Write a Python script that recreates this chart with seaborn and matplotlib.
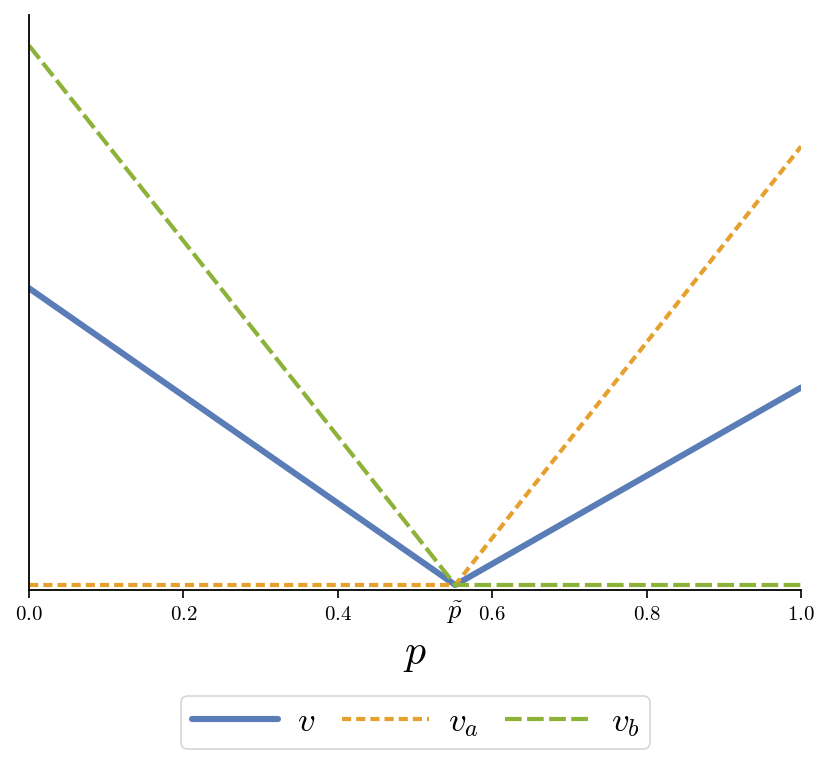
# ==== IMPORT LIBRARIES ====
import matplotlib
matplotlib.use("Agg")
import matplotlib.pyplot as plt
import seaborn as sns

# ==== DATA ====
p = [0.0, 0.552, 1.0]
v = [0.55, 0.0, 0.366]
v_a = [0.0, 0.0, 0.813]
v_b = [1.0, 0.0, 0.0]

p_tilde = 0.552
xticks = [0.0, 0.2, 0.4, 0.6, 0.8, 1.0]
xtick_labels = ["$0.0$", "$0.2$", "$0.4$", "$0.6$", "$0.8$", "$1.0$"]

# ==== STYLE ====
sns.set_style("ticks")
plt.rcParams["mathtext.fontset"] = "cm"
plt.rcParams["font.family"] = ["serif"]
plt.rcParams["font.serif"] = ["cmr10", "DejaVu Serif"]
plt.rcParams["text.color"] = "black"
plt.rcParams["xtick.color"] = "black"
plt.rcParams["axes.labelcolor"] = "black"

# ==== PLOT ====
fig = plt.figure(figsize=(8.31, 7.67), dpi=100)
ax = fig.add_axes([0.035, 0.231, 0.929, 0.749])

sns.lineplot(x=p, y=v, ax=ax, color="#5A7DB7", lw=4.4, label="$v$")
sns.lineplot(x=p, y=v_a, ax=ax, color="#E6A02E", lw=3, linestyle=(0, (2.2, 1.2)), label="$v_a$")
sns.lineplot(x=p, y=v_b, ax=ax, color="#8CB23A", lw=3, linestyle=(0, (4, 1.3)), label="$v_b$")

ax.set_xlim(0, 1)
ax.set_ylim(-0.009, 1.056)
ax.set_xticks(xticks, xtick_labels, fontsize=15)
ax.set_xticks([p_tilde], [r"$\tilde{p}$"], minor=True, fontsize=19)
ax.tick_params(axis="x", which="major", length=6, width=1.2, color="black", pad=6)
ax.tick_params(axis="x", which="minor", length=0, pad=7)
ax.set_yticks([])
ax.set_xlabel("$p$", fontsize=30, labelpad=8)
sns.despine(ax=ax)
for s in ["left", "bottom"]:
    ax.spines[s].set_color("black")
    ax.spines[s].set_linewidth(1.3)

ax.get_legend().remove()
handles, labels = ax.get_legend_handles_labels()
leg = fig.legend(handles, labels, loc="upper center", bbox_to_anchor=(0.5, 0.093),
                 ncol=3, fontsize=25, frameon=True, fancybox=True,
                 handlelength=2.5, columnspacing=0.75, handletextpad=0.55,
                 borderpad=0.3, borderaxespad=0)
leg.get_frame().set_edgecolor("#cccccc")
leg.get_frame().set_linewidth(1.2)

plt.savefig("out.png", dpi=100)
